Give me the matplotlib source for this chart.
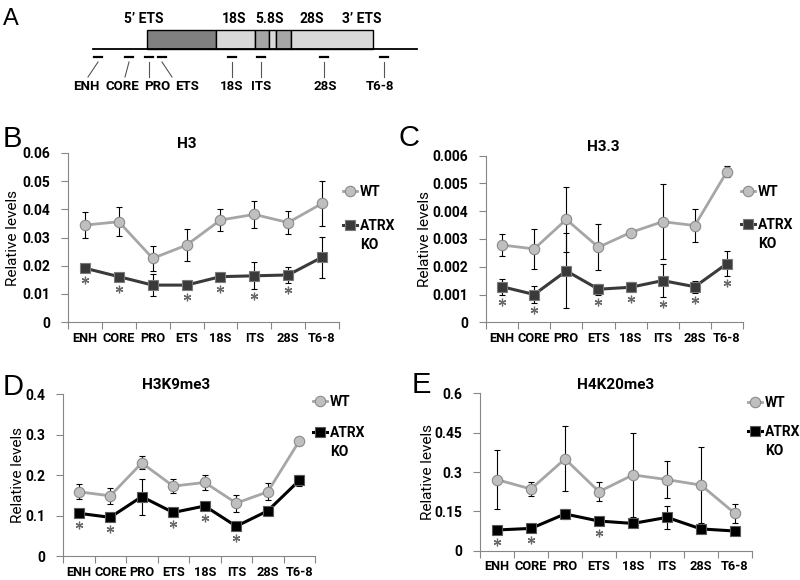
import matplotlib
matplotlib.use('Agg')
import matplotlib.pyplot as plt
from matplotlib.patches import Rectangle
from matplotlib.transforms import offset_copy
import numpy as np

plt.rcParams['font.family'] = ['Roboto', 'DejaVu Sans']

regions = ['ENH', 'CORE', 'PRO', 'ETS', '18S', 'ITS', '28S', 'T6-8']

# B - H3
h3_wt = [0.0344, 0.0356, 0.0226, 0.0273, 0.0362, 0.0382, 0.0353, 0.0421]
h3_wt_err = [0.0046, 0.0052, 0.0045, 0.0057, 0.0039, 0.0047, 0.0042, 0.0079]
h3_ko = [0.0191, 0.0161, 0.0131, 0.0131, 0.0161, 0.0164, 0.0167, 0.0230]
h3_ko_err = [0.0005, 0.0010, 0.0038, 0.0010, 0.0004, 0.0048, 0.0027, 0.0073]
h3_stars = ['ENH', 'CORE', 'ETS', '18S', 'ITS', '28S']
h3_yticks = ['0', '0.01', '0.02', '0.03', '0.04', '0.05', '0.06']

# C - H3.3
h33_wt = [0.00278, 0.00264, 0.00370, 0.00270, 0.00323, 0.00362, 0.00348, 0.00542]
h33_wt_err = [0.00038, 0.00073, 0.00116, 0.00082, 0.00002, 0.00136, 0.00058, 0.00020]
h33_ko = [0.00128, 0.00100, 0.00185, 0.00119, 0.00126, 0.00150, 0.00128, 0.00211]
h33_ko_err = [0.00028, 0.00032, 0.00135, 0.00020, 0.00018, 0.00059, 0.00022, 0.00045]
h33_stars = ['ENH', 'CORE', 'ETS', '18S', 'ITS', '28S', 'T6-8']
h33_yticks = ['0', '0.001', '0.002', '0.003', '0.004', '0.005', '0.006']

# D - H3K9me3
k9_wt = [0.159, 0.149, 0.230, 0.173, 0.182, 0.131, 0.159, 0.284]
k9_wt_err = [0.018, 0.019, 0.016, 0.018, 0.018, 0.021, 0.021, 0.003]
k9_ko = [0.106, 0.096, 0.147, 0.108, 0.124, 0.074, 0.112, 0.187]
k9_ko_err = [0.006, 0.005, 0.044, 0.012, 0.007, 0.005, 0.004, 0.014]
k9_stars = ['ENH', 'CORE', 'ETS', '18S', 'ITS']
k9_yticks = ['0', '0.1', '0.2', '0.3', '0.4']

# E - H4K20me3
k20_wt = [0.271, 0.235, 0.350, 0.225, 0.289, 0.271, 0.250, 0.142]
k20_wt_err = [0.111, 0.026, 0.124, 0.037, 0.160, 0.070, 0.145, 0.036]
k20_ko = [0.079, 0.085, 0.140, 0.113, 0.104, 0.127, 0.083, 0.075]
k20_ko_err = [0.005, 0.005, 0.018, 0.005, 0.005, 0.045, 0.005, 0.005]
k20_stars = ['ENH', 'CORE', 'ETS']
k20_yticks = ['0', '0.15', '0.3', '0.45', '0.6']

# panel A schematic (pixel layout of the rDNA repeat)
block_edges = [147, 216, 255, 269, 276, 291, 373]
block_colors = ['#808080', '#d9d9d9', '#a6a6a6', '#d9d9d9', '#a6a6a6', '#d9d9d9']
unit_labels = ['5\u2019 ETS', '18S', '5.8S', '28S', '3\u2019 ETS']
unit_label_x = [144, 234, 270, 312, 362]
probe_x = [98, 129, 149, 162, 232, 261, 324, 384]
probe_end_x = [88, 125, 149, 172, 232, 261, 324, 384]
probe_labels = ['ENH', 'CORE', 'PRO', 'ETS', '18S', 'ITS', '28S', 'T6-8']
probe_label_x = [86, 122, 157, 187, 232, 261, 325, 380]

W, H = 800, 580
fig = plt.figure(figsize=(8, 5.8), dpi=100)

axA = fig.add_axes([0, 0, 1, 1])
axA.set_xlim(0, W)
axA.set_ylim(H, 0)
axA.axis('off')
axA.plot([93, 417], [49, 49], color='black', lw=1.3)
for x0, x1, c in zip(block_edges[:-1], block_edges[1:], block_colors):
    axA.add_patch(Rectangle((x0, 30), x1 - x0, 19, fc=c, ec='black', lw=1.0))
for lab, x in zip(unit_labels, unit_label_x):
    axA.text(x, 19, lab, ha='center', va='center', fontsize=10, fontweight='bold')
for x, xe, lab, xl in zip(probe_x, probe_end_x, probe_labels, probe_label_x):
    axA.plot([x - 4, x + 4], [57, 57], color='black', lw=1.6)
    axA.plot([x, xe], [62, 77], color='#555555', lw=0.8)
    axA.text(xl, 87, lab, ha='center', va='center', fontsize=9.5, fontweight='bold')

# panel letters
for lab, x, y, fs in [('A', 3, 25, 17), ('B', 3, 147, 21), ('C', 398, 146, 21),
                      ('D', 3, 395, 21), ('E', 412, 393, 21)]:
    axA.text(x, y, lab, ha='left', va='baseline', fontsize=fs,
             family=['Liberation Sans', 'DejaVu Sans'])


def px_axes(x0, x1, y0, y1):
    # axes box from pixel edges (y measured from the top)
    return fig.add_axes([x0 / W, 1 - y1 / H, (x1 - x0) / W, (y1 - y0) / H])


legends = []


def draw_panel(ax, title, title_x, wt, wt_err, ko, ko_err, stars, yticks,
               ko_color, ko_edge, ylab_x, leg_xy, leg_space):
    x = np.arange(len(regions))
    ymax = float(yticks[-1])
    ax.set_xlim(-0.5, len(regions) - 0.5)
    ax.set_ylim(0, ymax)

    ax.errorbar(x, wt, yerr=wt_err, fmt='none', ecolor='black', elinewidth=0.8,
                capsize=2.3, capthick=0.8, zorder=2)
    ax.errorbar(x, ko, yerr=ko_err, fmt='none', ecolor='black', elinewidth=0.8,
                capsize=2.3, capthick=0.8, zorder=2)
    ax.plot(x, wt, '-o', color='#a6a6a6', lw=2, ms=7.5, mfc='#bfbfbf',
            mec='#8a8a8a', mew=0.8, label='WT', zorder=3)
    ax.plot(x, ko, '-s', color=ko_color, lw=2.2, ms=7.5, mfc=ko_color,
            mec=ko_edge, mew=0.8, label='ATRX', zorder=3)

    # significance asterisks under the KO points
    for name in stars:
        i = regions.index(name)
        y0 = ax.transData.transform((i, ko[i]))[1]
        y1 = ax.transData.transform((i, ko[i] - ko_err[i]))[1]
        off = max(y0 - y1, 5) + 7
        tr = offset_copy(ax.transData, fig=fig, y=-off, units='dots')
        ax.plot(i, ko[i], marker=(6, 2, 0), ms=5.5, mew=0.9, color='#6a6a6a',
                transform=tr, clip_on=False, zorder=5)

    ax.set_yticks([float(t) for t in yticks])
    ax.set_yticklabels(yticks, fontsize=10, fontweight='bold')
    ax.set_xticks(x)
    ax.set_xticklabels(regions, fontsize=9.2, fontweight='bold')
    ax.set_xticks(np.arange(len(regions) + 1) - 0.5, minor=True)
    ax.tick_params(axis='x', which='major', length=0, pad=7)
    ax.tick_params(axis='x', which='minor', length=5, color='#868686', width=0.8)
    ax.tick_params(axis='y', length=5, color='#868686', width=0.8, pad=8)
    for s in ['top', 'right']:
        ax.spines[s].set_visible(False)
    for s in ['left', 'bottom']:
        ax.spines[s].set_color('#868686')
        ax.spines[s].set_linewidth(0.8)

    ax.set_ylabel('Relative levels', fontsize=11)
    ax.yaxis.set_label_coords(ylab_x, 0.5)
    ax.text(title_x, 1.01, title, transform=ax.transAxes, ha='center',
            va='bottom', fontsize=11, fontweight='bold')
    leg = ax.legend(loc='upper left', bbox_to_anchor=(leg_xy[0] / W, 1 - leg_xy[1] / H),
                    bbox_transform=fig.transFigure, frameon=False, handlelength=1.0,
                    handletextpad=0.2, labelspacing=leg_space, borderpad=0,
                    borderaxespad=0, prop={'weight': 'bold', 'size': 10})
    legends.append(leg)


axB = px_axes(68, 339, 153, 322)
draw_panel(axB, 'H3', 0.44, h3_wt, h3_wt_err, h3_ko, h3_ko_err, h3_stars,
           h3_yticks, '#3a3a3a', '#7a7a7a', -0.177, (343, 185), 1.45)

axC = px_axes(486, 743, 155.5, 322.3)
draw_panel(axC, 'H3.3', 0.455, h33_wt, h33_wt_err, h33_ko, h33_ko_err, h33_stars,
           h33_yticks, '#3a3a3a', '#7a7a7a', -0.21, (741, 185), 1.35)

axD = px_axes(63, 315, 394, 556.3)
draw_panel(axD, 'H3K9me3', 0.45, k9_wt, k9_wt_err, k9_ko, k9_ko_err, k9_stars,
           k9_yticks, '#000000', '#5a5a5a', -0.151, (313, 395), 1.2)

axE = px_axes(480, 752, 393.3, 550.7)
draw_panel(axE, 'H4K20me3', 0.5, k20_wt, k20_wt_err, k20_ko, k20_ko_err, k20_stars,
           k20_yticks, '#000000', '#5a5a5a', -0.165, (748, 396), 1.05)

# second line "KO" of the ATRX KO legend entry
fig.canvas.draw()
for leg in legends:
    bb = leg.get_texts()[1].get_window_extent()
    fig.text(bb.x0 / W, ((bb.y0 + bb.y1) / 2 - 19) / H, 'KO', ha='left',
             va='center', fontsize=10, fontweight='bold')

fig.savefig('out.png', dpi=100)
